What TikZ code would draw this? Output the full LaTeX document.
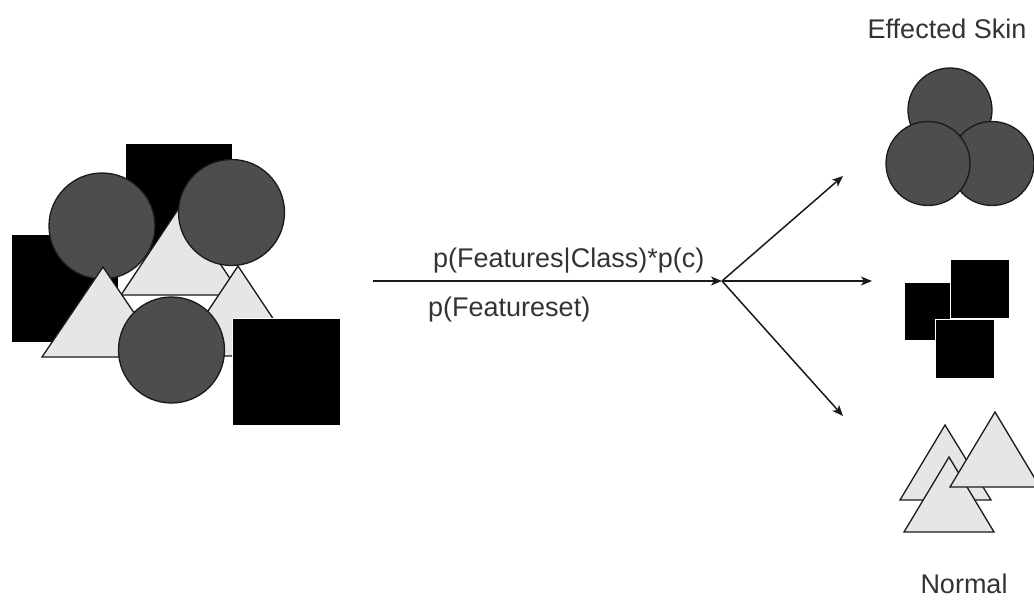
\documentclass[tikz,border=0pt]{standalone}
\usepackage{fontspec}
\setmainfont{Liberation Sans}
\usetikzlibrary{arrows.meta}
\definecolor{circfill}{HTML}{4D4D4D}
\definecolor{trifill}{HTML}{E6E6E6}
\definecolor{edgecol}{HTML}{1A1A1A}
\definecolor{txtcol}{HTML}{333333}
\begin{document}
\begin{tikzpicture}[x=1pt,y=-1pt,
  circ/.style={fill=circfill,draw=edgecol,line width=1.3pt},
  tri/.style={fill=trifill,draw=edgecol,line width=1.3pt,line join=miter},
  sq/.style={fill=black,draw=white,line width=1pt},
  conn/.style={draw=edgecol,line width=1.5pt,-{Stealth[length=11pt,width=9pt,inset=3pt]}},
  lbl/.style={font=\fontsize{27}{31}\selectfont,text=txtcol,inner sep=0pt}]
\useasboundingbox (0,0) rectangle (1034,603);

% ---- left cluster ----
\path[sq] (125,143) rectangle (232,250);
\path[sq] (11,234) rectangle (118,342);
\path[circ] (102,226) circle[radius=53pt];
\path[tri] (121,295) -- (181,205) -- (241,295) -- cycle;
\path[circ] (231.5,212.5) circle[radius=53pt];
\path[tri] (178,356) -- (238,266) -- (298,356) -- cycle;
\path[tri] (42,357) -- (103,267) -- (164,357) -- cycle;
\path[circ] (171.5,350) circle[radius=53pt];
\path[sq] (232,318) rectangle (340,425);

% ---- right: effected skin circles ----
\path[circ] (950,110) circle[radius=42pt];
\path[circ] (992,163.5) circle[radius=42pt];
\path[circ] (928,163.5) circle[radius=42pt];

% ---- right: squares ----
\path[sq] (904,282) rectangle (962,340);
\path[sq] (950,259) rectangle (1009,318);
\path[sq] (935,319) rectangle (994,378);

% ---- right: triangles ----
\path[tri] (900,500) -- (945,425) -- (991,500) -- cycle;
\path[tri] (904,532) -- (949,457) -- (994,532) -- cycle;
\path[tri] (950,487) -- (995,412) -- (1040,487) -- cycle;

% ---- connectors ----
\coordinate (src) at (373,281);
\coordinate (hub) at (722,281);
\coordinate (upper) at (843,176);
\coordinate (middle) at (872,281);
\coordinate (lower) at (843,416);
\draw[conn] (src) -- (hub);
\draw[conn] (hub) -- (upper);
\draw[conn] (hub) -- (middle);
\draw[conn] (hub) -- (lower);

% ---- labels ----
\node[lbl,anchor=base west] (numer) at (433,267) {p(Features|Class)*p(c)};
\node[lbl,anchor=base west] (denom) at (428,316) {p(Featureset)};
\node[lbl,anchor=base] (skin) at (947,38) {Effected Skin};
\node[lbl,anchor=base] (normal) at (964,593) {Normal};
\end{tikzpicture}
\end{document}
